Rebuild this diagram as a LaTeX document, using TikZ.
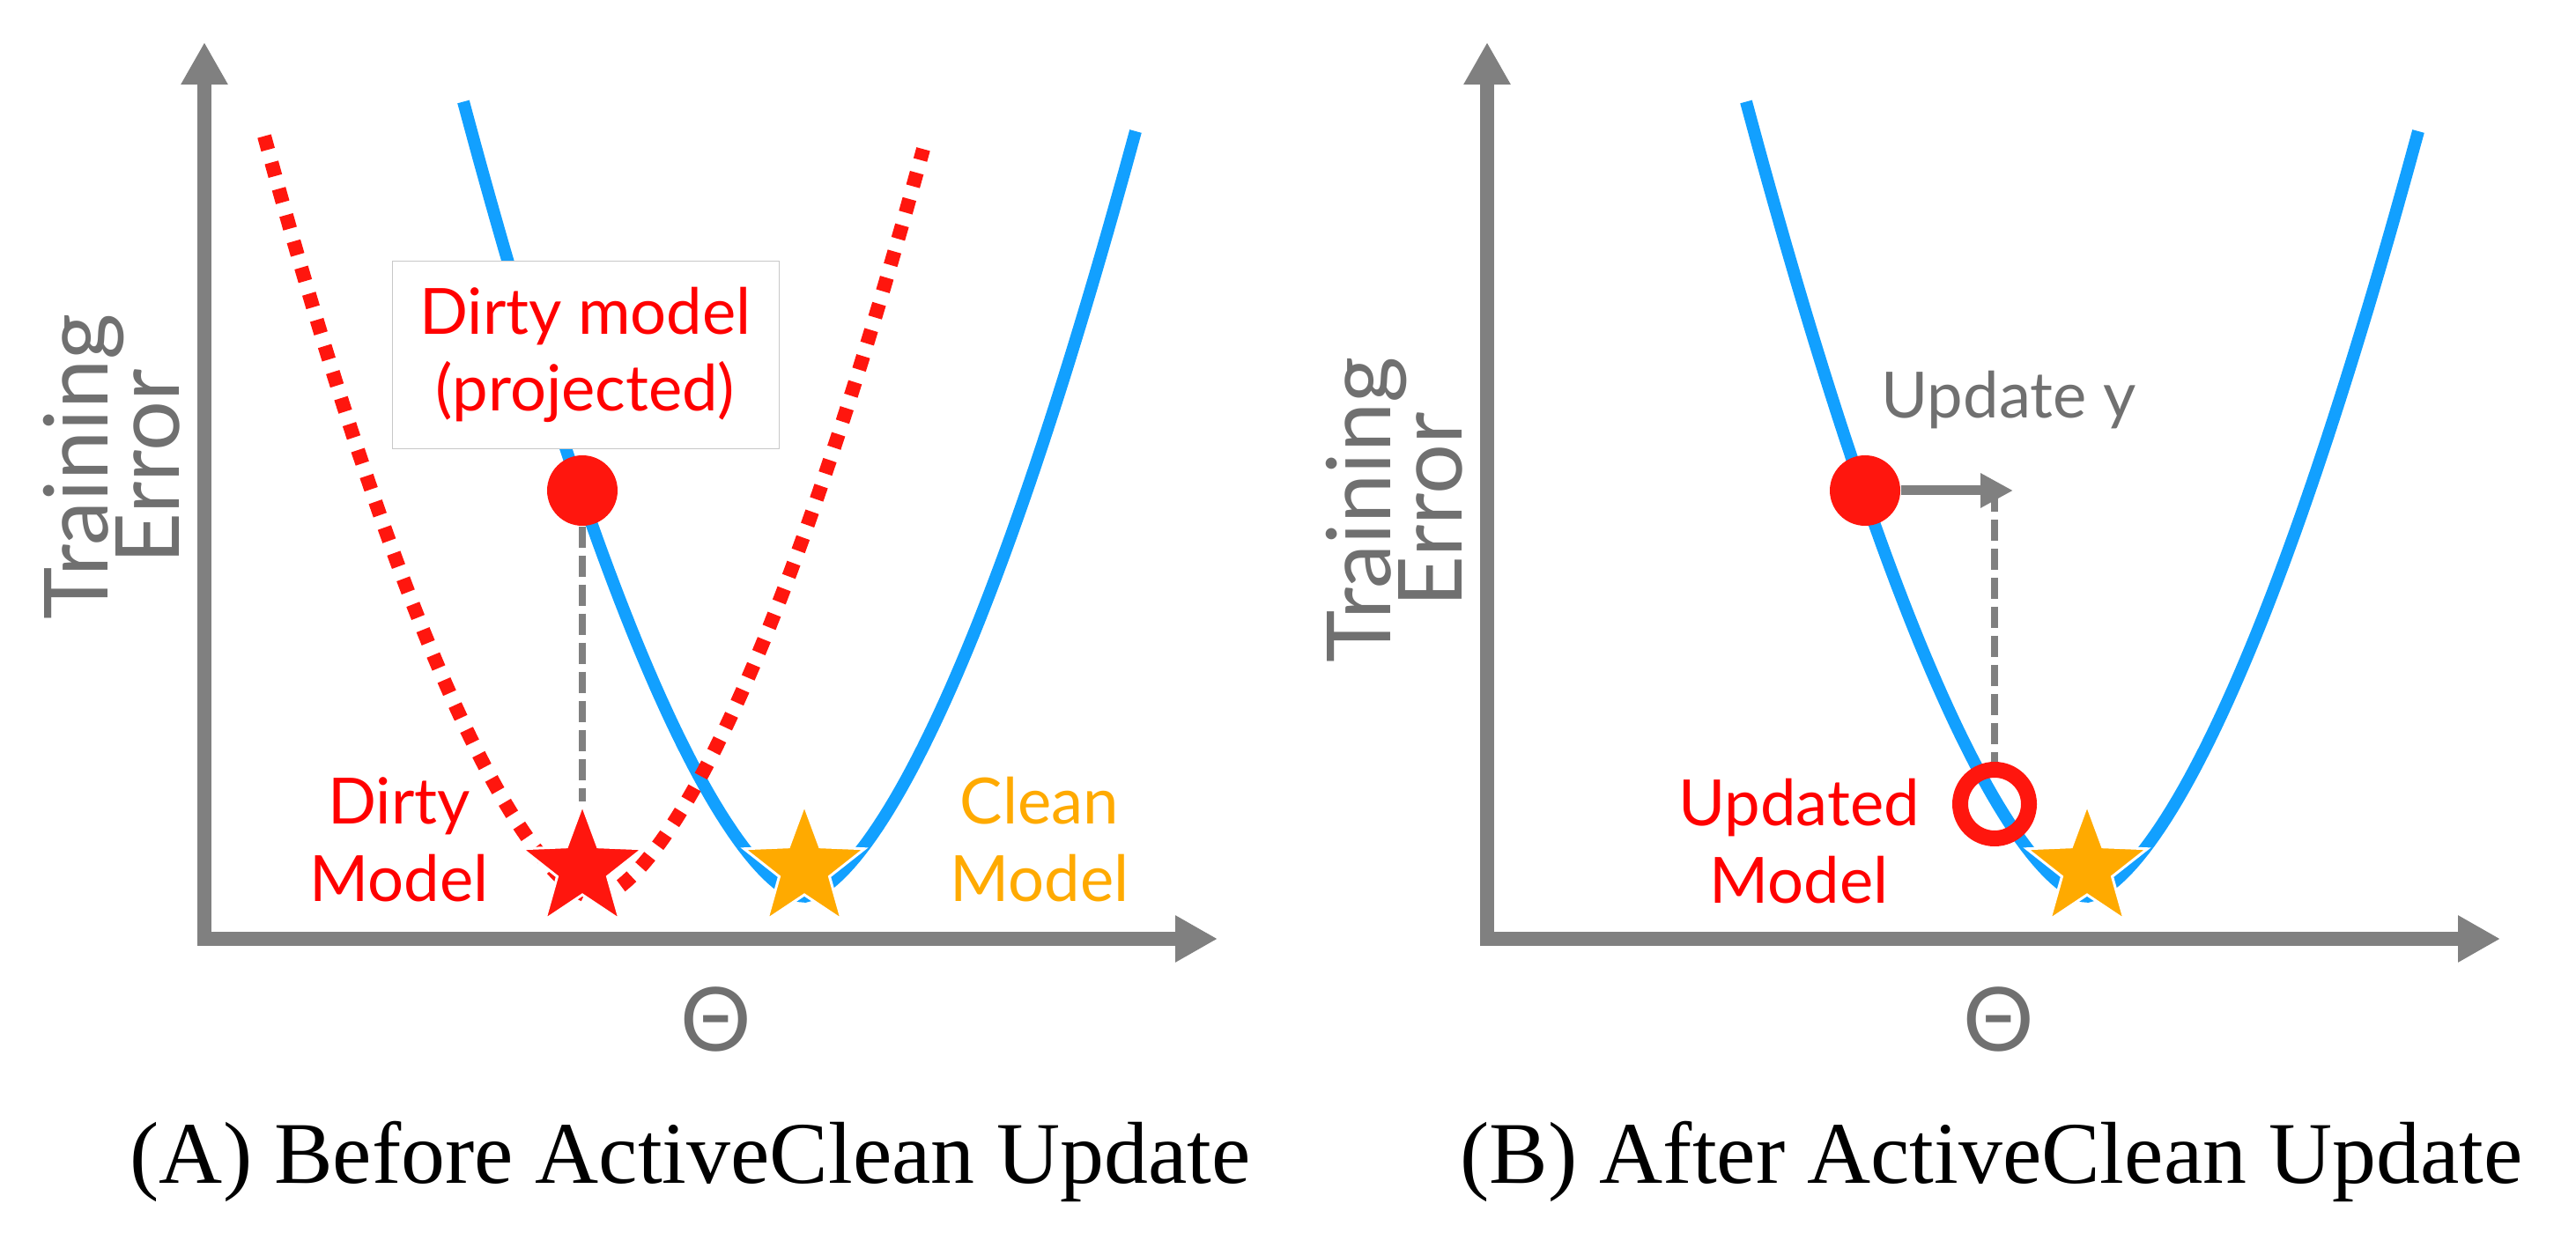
\documentclass[tikz,border=0pt]{standalone}
\usepackage{fontspec}
\setmainfont{Liberation Serif}
\newfontfamily\tagfont{Lato}
\usetikzlibrary{arrows.meta,shapes.geometric}

\definecolor{errred}{RGB}{255,22,14}
\definecolor{tagred}{RGB}{255,0,0}
\definecolor{cleanorange}{RGB}{255,170,0}
\definecolor{lossblue}{RGB}{18,160,255}
\definecolor{axisgray}{RGB}{128,128,128}
\definecolor{labelgray}{RGB}{112,112,112}
\definecolor{boxgray}{RGB}{200,200,200}

\tikzset{
  axisline/.style={axisgray, line width=0.16cm,
    {Triangle[width=0.5cm,length=0.48cm]}-{Triangle[width=0.5cm,length=0.48cm]}},
  steparrow/.style={axisgray, line width=0.11cm, -{Triangle[width=0.37cm,length=0.37cm]}},
  cleanloss/.style={lossblue, line width=0.14cm},
  dirtyloss/.style={errred, line width=0.16cm, dash pattern=on 0.16cm off 0.15cm},
  dropline/.style={axisgray, line width=0.08cm, dash pattern=on 0.24cm off 0.09cm},
  modeldot/.style={circle, fill=errred, inner sep=0pt, minimum size=0.8cm},
  modelring/.style={circle, draw=errred, line width=0.18cm, inner sep=0pt, minimum size=0.78cm},
  optstar/.style={star, star points=5, star point ratio=2.4, inner sep=0pt,
    minimum size=1.44cm, draw=white, line width=0.03cm},
  modeltag/.style={font=\tagfont\fontsize{20.6}{25}\selectfont, align=center},
  axislabel/.style={labelgray, align=center,
    font={\tagfont\fontsize{28.6}{23}\selectfont\lineskiplimit=-50pt\relax}},
  subcap/.style={font=\fontsize{28.4}{34}\selectfont, anchor=base west, inner sep=0pt},
}

\begin{document}
\begin{tikzpicture}
  \useasboundingbox (0,0) rectangle (29.24,14);

  % (A) before the update
  \coordinate (ytipA) at (2.32,13.52);
  \coordinate (xtipA) at (13.82,3.34);
  \draw[axisline] (ytipA) |- (xtipA);
  \draw[cleanloss] plot[domain=-3.86:3.77, samples=121]
    ({9.12+\x}, {3.82+1.04*pow(abs(\x),1.6)});
  \draw[dirtyloss] plot[domain=-3.76:3.72, samples=121]
    ({6.76+\x}, {3.80+1.04*pow(abs(\x),1.6)});
  \node[modeltag, tagred, fill=white, draw=boxgray, line width=0.01cm,
    minimum width=4.39cm, minimum height=2.13cm] (projtag) at (6.645,9.97)
    {Dirty model\\(projected)};
  \node[modeldot] (dotA) at (6.61,8.43) {};
  \node[optstar, fill=errred] (dirtystar) at (6.61,4.14) {};
  \node[optstar, fill=cleanorange] (cleanstarA) at (9.13,4.14) {};
  \draw[dropline] (dotA) -- (dirtystar);
  \node[modeltag, tagred] (dirtytag) at (4.53,4.465) {Dirty\\Model};
  \node[modeltag, cleanorange] (cleantag) at (11.80,4.465) {Clean\\Model};
  \node[axislabel, rotate=90] (yA) at (1.27,8.70) {Training\\Error};
  \node[axislabel] (thetaA) at (8.13,2.43) {Θ};

  % (B) after the update
  \begin{scope}[xshift=14.56cm]
    \coordinate (ytipB) at (2.32,13.52);
    \coordinate (xtipB) at (13.82,3.34);
    \draw[axisline] (ytipB) |- (xtipB);
    \draw[cleanloss] plot[domain=-3.86:3.77, samples=121]
      ({9.12+\x}, {3.82+1.04*pow(abs(\x),1.6)});
    \node[modeldot] (dotB) at (6.61,8.43) {};
    \node[modelring] (ringB) at (8.08,4.87) {};
    \node[optstar, fill=cleanorange] (cleanstarB) at (9.13,4.14) {};
    \coordinate (stepfoot) at (8.08,8.43);
    \coordinate (steptip) at (8.29,8.43);
    \draw[dropline] (stepfoot) -- (ringB);
    \draw[steparrow] (dotB) -- (steptip);
    \node[modeltag, labelgray, anchor=base] (steptag) at (8.24,9.25) {Update y};
    \node[modeltag, tagred] (updtag) at (5.86,4.453) {Updated\\Model};
    \node[axislabel, rotate=90] (yB) at (1.27,8.21) {Training\\Error};
    \node[axislabel] (thetaB) at (8.13,2.43) {Θ};
  \end{scope}

  \node[subcap] (capA) at (1.47,0.56) {(A) Before ActiveClean Update};
  \node[subcap] (capB) at (16.57,0.56) {(B) After ActiveClean Update};
\end{tikzpicture}
\end{document}
